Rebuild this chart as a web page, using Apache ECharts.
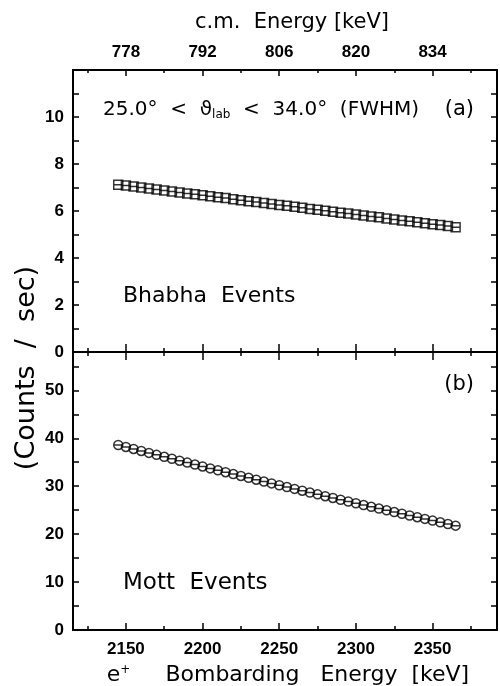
<!DOCTYPE html>
<html>
<head>
<meta charset="utf-8">
<script src="https://cdn.jsdelivr.net/npm/echarts@6/dist/echarts.min.js"></script>
<style>
  html, body { margin: 0; padding: 0; background: #fff; }
  #chart { width: 500px; height: 686px; }
</style>
</head>
<body>
<div id="chart"></div>
<script>
// e+ bombarding energy [keV]
const energies = [2145, 2150, 2155, 2160, 2165, 2170, 2175, 2180, 2185, 2190, 2195,
  2200, 2205, 2210, 2215, 2220, 2225, 2230, 2235, 2240, 2245, 2250, 2255, 2260, 2265,
  2270, 2275, 2280, 2285, 2290, 2295, 2300, 2305, 2310, 2315, 2320, 2325, 2330, 2335,
  2340, 2345, 2350, 2355, 2360, 2365];
// (a) Bhabha events, counts/sec
const bhabhaRates = [7.12, 7.08, 7.04, 7.00, 6.96, 6.92, 6.87, 6.83, 6.79, 6.75, 6.71,
  6.67, 6.63, 6.59, 6.55, 6.50, 6.46, 6.42, 6.38, 6.34, 6.30, 6.26, 6.22, 6.18, 6.14,
  6.09, 6.05, 6.01, 5.97, 5.93, 5.89, 5.85, 5.81, 5.77, 5.73, 5.68, 5.64, 5.60, 5.56,
  5.52, 5.48, 5.44, 5.40, 5.36, 5.31];
// (b) Mott events, counts/sec
const mottRates = [38.60, 38.19, 37.77, 37.36, 36.95, 36.54, 36.13, 35.73, 35.32, 34.92,
  34.52, 34.12, 33.72, 33.32, 32.93, 32.53, 32.14, 31.75, 31.36, 30.97, 30.59, 30.20,
  29.82, 29.44, 29.06, 28.68, 28.30, 27.92, 27.55, 27.18, 26.81, 26.44, 26.07, 25.70,
  25.34, 24.97, 24.61, 24.25, 23.89, 23.53, 23.18, 22.82, 22.47, 22.12, 21.77];

const majorTicks = [2150, 2200, 2250, 2300, 2350];
const minorTicks = [2125, 2175, 2225, 2275, 2325, 2375];
const cmLabels = ['778', '792', '806', '820', '834'];

const X_MIN = 2115.5;
const X_MAX = 2392;

const tickFont = { color: '#000', fontFamily: 'Liberation Sans', fontWeight: 'bold', fontSize: 17 };
const textFont = 'DejaVu Sans';

const chart = echarts.init(document.getElementById('chart'));

function xAxisDef(gridIndex, position, ticks, len, extra) {
  return Object.assign({
    type: 'value', gridIndex: gridIndex, position: position, min: X_MIN, max: X_MAX,
    axisLine: { show: true, onZero: false, lineStyle: { color: '#000', width: 2 } },
    axisTick: { show: true, inside: true, length: len, customValues: ticks, lineStyle: { color: '#000', width: 1.5 } },
    axisLabel: { show: false },
    splitLine: { show: false }
  }, extra || {});
}

function yAxisDef(gridIndex, position, max, step, labelFn) {
  return {
    type: 'value', gridIndex: gridIndex, position: position, min: 0, max: max, interval: step,
    axisLine: { show: true, onZero: false, lineStyle: { color: '#000', width: 2 } },
    axisTick: { show: true, inside: true, length: 6, lineStyle: { color: '#000', width: 1.5 } },
    axisLabel: labelFn ? Object.assign({ show: true, margin: 9, formatter: labelFn }, tickFont) : { show: false },
    splitLine: { show: false }
  };
}

const gridA = { left: 73, right: 3, top: 70, height: 282, outerBoundsMode: 'none' };
const gridB = { left: 73, right: 3, top: 352, height: 278, outerBoundsMode: 'none' };

const option = {
  animation: false,
  backgroundColor: '#fff',
  grid: [gridA, gridB, gridA, gridB],
  xAxis: [
    // top panel
    xAxisDef(0, 'top', majorTicks, 6, {
      axisLabel: Object.assign({
        show: true, margin: 9, customValues: majorTicks,
        formatter: v => cmLabels[majorTicks.indexOf(v)]
      }, tickFont),
      name: 'c.m.  Energy [keV]', nameLocation: 'middle', nameGap: 37,
      nameTextStyle: { color: '#000', fontFamily: textFont, fontSize: 21, padding: [0, 0, 0, 14] }
    }),
    xAxisDef(0, 'bottom', majorTicks, 8),
    // bottom panel
    xAxisDef(1, 'top', majorTicks, 8),
    xAxisDef(1, 'bottom', majorTicks, 7, {
      axisLabel: Object.assign({ show: true, margin: 11, customValues: majorTicks, formatter: v => String(v) }, tickFont),
      name: '{e|e}{p|+}{t|     Bombarding   Energy  [keV]}', nameLocation: 'middle', nameGap: 34,
      nameTextStyle: {
        color: '#000', fontFamily: textFont, fontSize: 22, padding: [0, 0, 0, 6],
        rich: {
          e: { fontFamily: textFont, fontSize: 22, color: '#000' },
          p: { fontFamily: textFont, fontSize: 12, color: '#000', verticalAlign: 'top', padding: [0, 0, 10, 0] },
          t: { fontFamily: textFont, fontSize: 22, color: '#000' }
        }
      }
    }),
    // minor ticks
    xAxisDef(2, 'top', minorTicks, 3),
    xAxisDef(2, 'bottom', minorTicks, 4),
    xAxisDef(3, 'top', minorTicks, 4),
    xAxisDef(3, 'bottom', minorTicks, 4)
  ],
  yAxis: [
    yAxisDef(0, 'left', 12, 1, v => (v % 2 === 0 && v < 12 ? String(v) : '')),
    yAxisDef(0, 'right', 12, 1),
    yAxisDef(1, 'left', 58, 5, v => (v % 10 === 0 && v <= 50 ? String(v) : '')),
    yAxisDef(1, 'right', 58, 5),
    { type: 'value', gridIndex: 2, min: 0, max: 12, show: false },
    { type: 'value', gridIndex: 3, min: 0, max: 58, show: false }
  ],
  series: [
    {
      name: 'Bhabha Events', type: 'scatter', xAxisIndex: 0, yAxisIndex: 0,
      symbol: 'path://M0,0L10,0L10,10L0,10ZM0,5L10,5', symbolSize: 9,
      itemStyle: { color: 'rgba(0,0,0,0)', borderColor: '#000', borderWidth: 1.5 },
      data: energies.map((e, i) => [e, bhabhaRates[i]])
    },
    {
      name: 'Mott Events', type: 'scatter', xAxisIndex: 3, yAxisIndex: 2,
      symbol: 'path://M10,5A5,5,0,1,1,0,5A5,5,0,1,1,10,5ZM0,5L10,5', symbolSize: 9,
      itemStyle: { color: 'rgba(0,0,0,0)', borderColor: '#000', borderWidth: 1.5 },
      data: energies.map((e, i) => [e, mottRates[i]])
    }
  ],
  graphic: [
    {
      type: 'text', x: 27, y: 368, rotation: Math.PI / 2,
      style: { text: '(Counts  /  sec)', fill: '#000', font: '27px "DejaVu Sans"', textAlign: 'center', textVerticalAlign: 'middle' }
    },
    {
      type: 'text', x: 103, y: 110,
      style: {
        text: '{n|25.0°  <  }{th|ϑ}{sub|lab}{n|  <  34.0°  (FWHM)}',
        textVerticalAlign: 'middle',
        rich: {
          n: { fontFamily: textFont, fontSize: 20, fill: '#000' },
          th: { fontFamily: textFont, fontSize: 20, fill: '#000' },
          sub: { fontFamily: textFont, fontSize: 12, fill: '#000', verticalAlign: 'bottom', padding: [10, 0, 0, 0] }
        }
      }
    },
    { type: 'text', x: 474, y: 110, style: { text: '(a)', fill: '#000', font: '21px "DejaVu Sans"', textAlign: 'right', textVerticalAlign: 'middle' } },
    { type: 'text', x: 474, y: 385, style: { text: '(b)', fill: '#000', font: '21px "DejaVu Sans"', textAlign: 'right', textVerticalAlign: 'middle' } },
    { type: 'text', x: 123, y: 296, style: { text: 'Bhabha  Events', fill: '#000', font: '22px "DejaVu Sans"', textVerticalAlign: 'middle' } },
    { type: 'text', x: 123, y: 583, style: { text: 'Mott  Events', fill: '#000', font: '23px "DejaVu Sans"', textVerticalAlign: 'middle' } }
  ]
};

chart.setOption(option);
window.addEventListener('resize', () => chart.resize());
</script>
</body>
</html>
